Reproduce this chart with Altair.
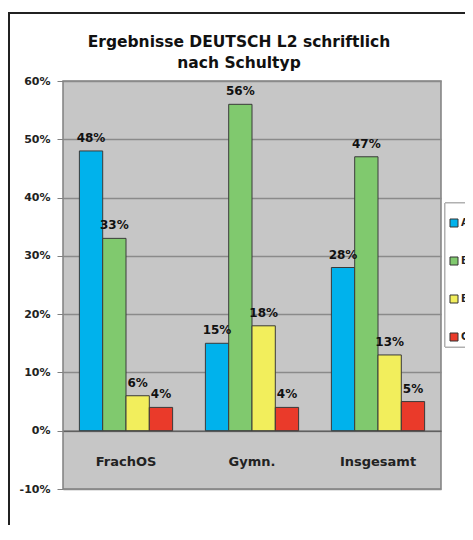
import altair as alt
import pandas as pd

title_lines = ["Ergebnisse DEUTSCH L2 schriftlich", "nach Schultyp"]
categories = ["FrachOS", "Gymn.", "Insgesamt"]
series = ["A2", "B1", "B2", "C1"]
values = {
    "A2": [0.48, 0.15, 0.28],
    "B1": [0.33, 0.56, 0.47],
    "B2": [0.06, 0.18, 0.13],
    "C1": [0.04, 0.04, 0.05],
}
labels = {
    "A2": ["48%", "15%", "28%"],
    "B1": ["33%", "56%", "47%"],
    "B2": ["6%", "18%", "13%"],
    "C1": ["4%", "4%", "5%"],
}
colors = ["#00B2EC", "#80C96E", "#F2EE5C", "#EA3A2A"]
y_ticks = [-0.1, 0.0, 0.1, 0.2, 0.3, 0.4, 0.5, 0.6]

rows = []
for s in series:
    for i, c in enumerate(categories):
        rows.append({"Schultyp": c, "Niveau": s, "Wert": values[s][i], "Label": labels[s][i]})
df = pd.DataFrame(rows)

W, H = 378, 408
FONT = "DejaVu Sans"

xenc = alt.X("Schultyp:N", sort=categories,
             scale=alt.Scale(paddingInner=0.26, paddingOuter=0.13),
             axis=alt.Axis(title=None, orient="bottom", offset=-H / 7.0,
                           labelAngle=0, labelFont=FONT, labelFontSize=13,
                           labelFontWeight="bold", labelColor="#222222",
                           labelPadding=25, ticks=False, domainColor="#606060",
                           domainWidth=1.5, grid=False))
yscale = alt.Scale(domain=[-0.1, 0.6], nice=False)
xoff = alt.XOffset("Niveau:N", sort=series)

bars = alt.Chart(df).mark_bar(stroke="#3a3a3a", strokeWidth=1).encode(
    x=xenc,
    xOffset=xoff,
    y=alt.Y("Wert:Q", scale=yscale,
            axis=alt.Axis(title=None, values=y_ticks,
                          labelExpr="round(datum.value*100) + '%'",
                          labelFont=FONT, labelFontSize=11, labelFontWeight="bold",
                          labelColor="#222222", labelPadding=7,
                          tickColor="#808080", tickSize=6, domain=False,
                          grid=True, gridColor="#8a8a8a", gridWidth=1.5)),
    y2=alt.datum(0),
    color=alt.Color("Niveau:N", sort=series,
                    scale=alt.Scale(domain=series, range=colors),
                    legend=alt.Legend(title=None, orient="none", legendX=386, legendY=137,
                                      symbolType="square", symbolSize=64,
                                      symbolStrokeColor="#333333", symbolStrokeWidth=1,
                                      labelFont=FONT, labelFontSize=10,
                                      labelFontWeight="bold", labelColor="#222222",
                                      rowPadding=26, padding=0, labelOffset=2)),
)

texts = alt.Chart(df).mark_text(baseline="bottom", dy=-6, font=FONT, fontSize=12,
                                fontWeight="bold", color="#111111").encode(
    x=alt.X("Schultyp:N", sort=categories),
    xOffset=xoff,
    y=alt.Y("Wert:Q", scale=yscale),
    text="Label:N",
)

title_df = pd.DataFrame({"line": title_lines, "row": [0, 1]})
title1 = alt.Chart(title_df).transform_filter("datum.row == 0").mark_text(
    font=FONT, fontSize=15.5, fontWeight="bold", color="#111111",
    align="center", baseline="alphabetic").encode(
    x=alt.value(176), y=alt.value(-34), text="line:N")
title2 = alt.Chart(title_df).transform_filter("datum.row == 1").mark_text(
    font=FONT, fontSize=15.5, fontWeight="bold", color="#111111",
    align="center", baseline="alphabetic").encode(
    x=alt.value(176), y=alt.value(-13), text="line:N")

legend_box = alt.Chart(df).mark_rect(fill="white", stroke="#b0b0b0", strokeWidth=1).encode(
    x=alt.value(382), x2=alt.value(480), y=alt.value(122), y2=alt.value(266)
)

outer_border = alt.Chart(df).mark_rect(fill=None, stroke="#222222", strokeWidth=1.5).encode(
    x=alt.value(-54), x2=alt.value(420), y=alt.value(-68), y2=alt.value(540)
)

chart = alt.layer(outer_border, legend_box, bars, texts, title1, title2).properties(
    width=W, height=H,
    padding={"left": 55, "top": 73, "right": 24, "bottom": 36},
    autosize=alt.AutoSizeParams(type="none"),
).configure_view(fill="#C6C6C6", stroke="#808080", strokeWidth=1.5)

chart.save("out.html", embed_options={"renderer": "svg", "actions": False})
